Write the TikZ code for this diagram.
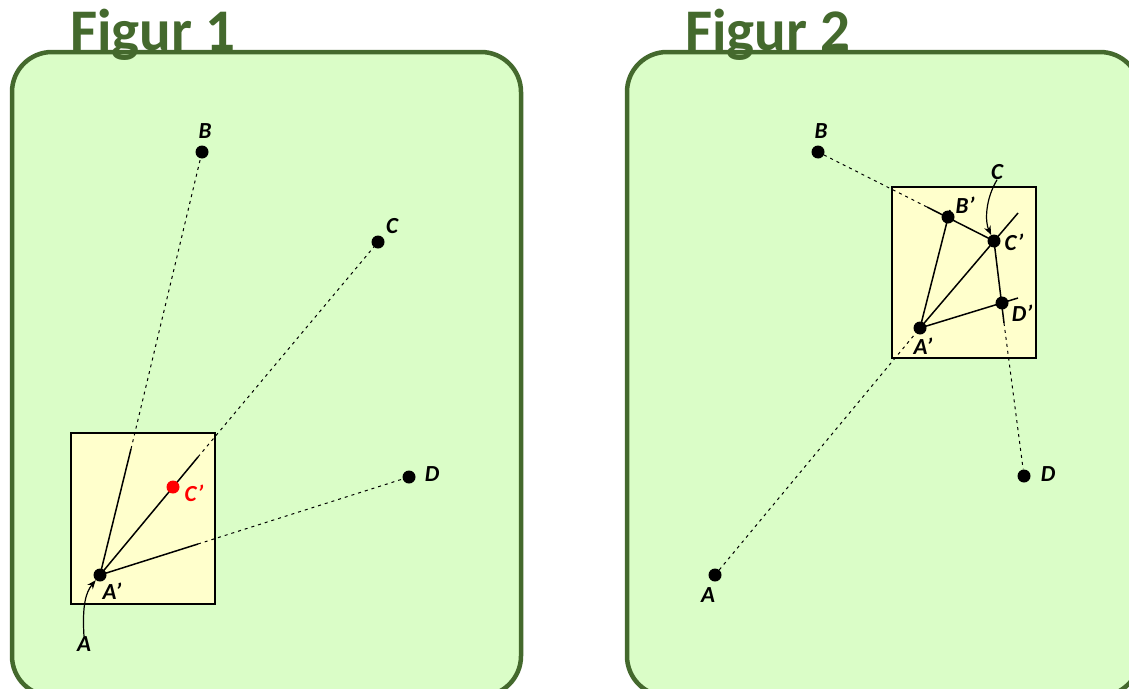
\documentclass[tikz,border=0pt]{standalone}
\usepackage{fontspec}
\setmainfont{Carlito}
\usetikzlibrary{arrows.meta}
\definecolor{frameGreen}{RGB}{68,105,45}
\definecolor{frameFill}{RGB}{218,253,199}
\definecolor{boxFill}{RGB}{255,255,204}
\tikzset{
 panel/.style={draw=frameGreen, line width=4.5pt, fill=frameFill, rounded corners=40pt},
 figtitle/.style={anchor=base west, text=frameGreen, font=\bfseries\fontsize{59}{62}\selectfont, inner sep=0pt},
 imgbox/.style={draw=black, line width=2pt, fill=boxFill},
 pt/.style={circle, fill=black, inner sep=0pt, minimum size=13pt},
 redpt/.style={pt, fill=red},
 lab/.style={font=\bfseries\itshape\fontsize{23}{26}\selectfont, inner sep=0pt},
 ray/.style={line width=1.5pt},
 guide/.style={line width=1pt, dash pattern=on 3pt off 4pt},
 curv/.style={line width=1.2pt, -{Stealth[length=9pt,width=7pt]}},
}
\begin{document}
\begin{tikzpicture}[x=1pt,y=-1pt]
\useasboundingbox (0,0) rectangle (1129,688);
\clip (0,0) rectangle (1129,688);
% panels
\draw[panel] (12,52) rectangle (521,696);
\draw[panel] (627,52) rectangle (1140,696);
\node[figtitle] (t1) at (70,50) {Figur 1};
\node[figtitle] (t2) at (685,50) {Figur 2};
% image boxes
\draw[imgbox] (71,433) rectangle (215,604);
\draw[imgbox] (892,187) rectangle (1036,358);

% ---------- Figure 1 ----------
\node[pt] (B1) at (202,152) {};
\node[pt] (C1) at (378,242) {};
\node[pt] (D1) at (409,477) {};
\node[pt] (A1p) at (100,575) {};
\coordinate (e1B) at (131,449);
\coordinate (e1C) at (198,457);
\coordinate (e1D) at (198,544);
\draw[guide] (e1B) -- (B1);
\draw[guide] (e1C) -- (C1);
\draw[guide] (e1D) -- (D1);
\draw[ray] (A1p.center) -- (e1B);
\draw[ray] (A1p.center) -- (e1C);
\draw[ray] (A1p.center) -- (e1D);
\node[redpt] (C1p) at (173,487) {};
\node[lab] (B1l) at (205,131) {B};
\node[lab] (C1l) at (392,226) {C};
\node[lab] (D1l) at (432,474) {D};
\node[lab] (A1pl) at (112,591) {A'};
\node[lab] (A1l) at (84,644) {A};
\node[lab, text=red] (C1pl) at (194,493) {C'};
\draw[curv] (A1l.north) .. controls (82,605) and (86,592) .. (A1p);

% ---------- Figure 2 ----------
\node[pt] (B2) at (818,152) {};
\node[pt] (D2) at (1024,476) {};
\node[pt] (A2) at (715,575) {};
\node[pt] (A2p) at (920,328) {};
\node[pt] (B2p) at (948,217) {};
\node[pt] (C2p) at (994,241) {};
\node[pt] (D2p) at (1002,303) {};
\coordinate (e2B) at (927,207);
\coordinate (e2C) at (1018,213);
\coordinate (e2Bp) at (950,210);
\coordinate (e2D) at (1018,298);
\coordinate (e2CD) at (1004,323);
\draw[guide] (B2) -- (e2B);
\draw[ray] (e2B) -- (C2p.center);
\draw[guide] (A2) -- (A2p);
\draw[ray] (A2p.center) -- (e2C);
\draw[ray] (A2p.center) -- (e2Bp);
\draw[ray] (A2p.center) -- (e2D);
\draw[ray] (C2p.center) -- (e2CD);
\draw[guide] (e2CD) -- (D2);
\node[lab] (B2l) at (821,131) {B};
\node[lab] (C2l) at (997,172) {C};
\node[lab] (B2pl) at (965,205) {B'};
\node[lab] (C2pl) at (1014,242) {C'};
\node[lab] (D2pl) at (1022,313) {D'};
\node[lab] (A2pl) at (923,346) {A'};
\node[lab] (A2l) at (708,595) {A};
\node[lab] (D2l) at (1048,474) {D};
\draw[curv] (C2l.south) .. controls (985,200) and (985,222) .. (C2p);
\end{tikzpicture}
\end{document}
